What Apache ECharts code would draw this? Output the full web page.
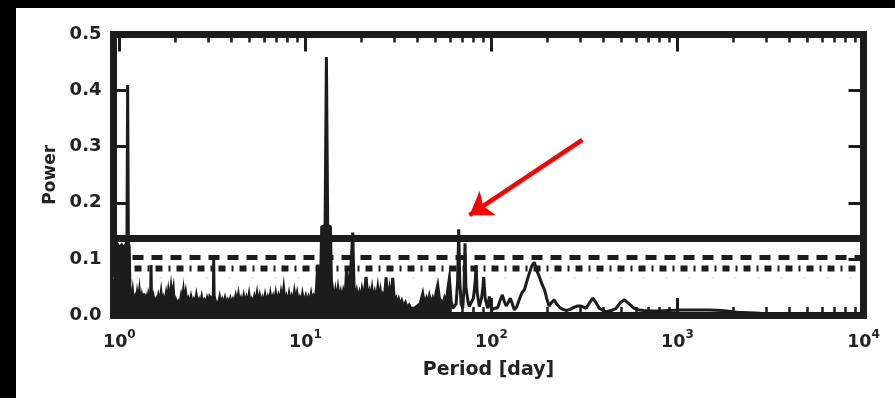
<!DOCTYPE html>
<html><head><meta charset="utf-8">
<script src="https://cdn.jsdelivr.net/npm/echarts@6/dist/echarts.min.js"></script>
<style>
html,body{margin:0;padding:0;background:#000;width:895px;height:398px;overflow:hidden}
#c{position:absolute;left:16px;top:8px;width:879px;height:390px;background:#fff}
</style></head><body><div id="c"></div>
<script>
// ---- data (period in days, power) ----
// dense short-period part of the periodogram (drawn filled)
const noisePeriod = [0.93,0.945,0.96,0.98,1.0,1.03,1.06,1.08,1.098,1.108,1.118,1.13,1.14,
 1.146,1.165,1.18,1.194,1.214,1.229,1.245,1.26,1.281,1.297,1.318,1.335,1.352,1.369,1.391,1.408,1.432,1.456,1.472,1.48,1.488,1.504,1.523,1.549,1.574,1.594,1.621,1.648,1.675,1.696,1.724,1.753,1.782,1.804,1.834,1.865,1.896,1.92,1.951,1.975,2.009,2.042,2.076,2.111,2.146,2.173,2.209,2.236,2.274,2.312,2.35,2.388,2.428,2.469,2.51,2.552,2.594,2.637,2.681,2.726,2.771,2.818,2.864,2.912,2.961,3.01,3.06,3.136,3.2,3.215,3.23,3.281,3.35,3.406,3.462,3.52,3.578,3.638,3.699,3.76,3.823,3.887,3.952,4.017,4.084,4.153,4.222,4.291,4.363,4.436,4.509,4.584,4.661,4.737,4.817,4.898,4.978,5.061,5.146,5.231,5.318,5.408,5.497,5.589,5.683,5.776,5.873,5.97,6.07,6.171,6.274,6.378,6.484,6.592,6.702,6.813,6.926,7.042,7.158,7.278,7.399,7.52,7.646,7.774,7.903,8.035,8.169,8.306,8.443,8.584,8.728,8.872,9.02,9.171,9.322,9.478,9.636,9.795,
 10.04,10.21,10.38,10.55,10.73,10.91,11.09,11.27,11.46,11.65,11.84,12.04,12.24,12.76,12.97,13.18,13.63,13.8,14.03,14.26,14.5,14.74,14.98,15.23,15.49,15.74,16.01,16.34,16.68,17.03,17.39,17.97,18.26,18.57,18.88,19.19,19.51,19.84,20.17,20.59,21.2,21.63,22.09,22.46,22.83,23.21,23.6,23.99,24.49,24.9,25.3,25.72,26.16,26.59,27.15,27.72,28.29,28.76,29.48,30.09,30.72,31.23,31.76,32.28,32.96,33.65,34.49,35.21,36.09,36.84,37.76,38.55,39.52,40.34,41.36,42.74,43.63,44.73,45.66,46.42,47.38,48.37,49.37,50.4,51.45,52.52,53.62,54.74,55.88,57.05,58.23,59.45,60.69];
const noisePower = [0.14,0.15,0.13,0.125,0.12,0.125,0.12,0.125,0.13,0.41,0.13,0.12,0.05,
 0.0475,0.022,0.0386,0.02,0.0297,0.02,0.0357,0.022,0.0416,0.021,0.0327,0.02,0.0386,0.021,0.0297,0.02,0.0357,0.025,0.03,0.089,0.03,0.025,0.0327,0.02,0.0267,0.019,0.0327,0.021,0.0386,0.02,0.0297,0.02,0.0357,0.022,0.0416,0.025,0.0475,0.03,0.0446,0.02,0.0267,0.019,0.0238,0.019,0.0327,0.022,0.0416,0.024,0.0386,0.02,0.0279,0.019,0.0315,0.02,0.0267,0.019,0.0339,0.02,0.0267,0.019,0.0315,0.02,0.0255,0.019,0.0291,0.021,0.0327,0.028,0.035,0.098,0.035,0.025,0.0267,0.019,0.0309,0.019,0.0267,0.019,0.0291,0.019,0.0255,0.018,0.0279,0.019,0.0267,0.02,0.0327,0.022,0.0357,0.02,0.0285,0.019,0.0327,0.02,0.0297,0.02,0.0351,0.019,0.0267,0.02,0.0315,0.021,0.0368,0.021,0.0327,0.02,0.0291,0.02,0.0339,0.021,0.0303,0.02,0.0357,0.022,0.0315,0.021,0.0368,0.022,0.0327,0.022,0.0386,0.025,0.0458,0.022,0.0315,0.021,0.0357,0.021,0.0315,0.022,0.0398,0.024,0.0368,0.021,0.0297,0.021,0.0357,0.021,
 0.033,0.021,0.03,0.02,0.0357,0.021,0.0327,0.028,0.045,0.09,0.045,0.05,0.157,0.16,0.46,0.16,0.157,0.06,0.045,0.025,0.0416,0.025,0.0446,0.025,0.0386,0.025,0.0416,0.03,0.085,0.04,0.06,0.147,0.05,0.03,0.0416,0.028,0.0386,0.026,0.0446,0.03,0.068,0.03,0.0416,0.026,0.0446,0.026,0.0386,0.025,0.0475,0.026,0.0416,0.024,0.0357,0.03,0.067,0.025,0.0446,0.025,0.066,0.024,0.0297,0.018,0.0267,0.017,0.025,0.015,0.022,0.013,0.0178,0.012,0.015,0.012,0.015,0.012,0.02,0.038,0.02,0.0297,0.018,0.0327,0.02,0.0297,0.02,0.04,0.053,0.03,0.0327,0.02,0.03,0.02,0.045,0.066,0.025];
// longer periods (drawn as a plain line)
const tailPeriod = [60.69,61.95,63.2,64.6,65.8,66.7,67.6,68.7,70.1,71.3,72.1,72.9,74.6,76.0,77.6,80.0,81.8,82.7,83.8,86.1,88.5,90.0,90.9,92.5,95.5,97.5,100.2,104,108,111,114.5,117,120,123,126.3,129.5,132.9,137,141,146,150.4,155,160,165,170,175,181,187,193,198,204,210,217,224,232,242,253,265,279,291,303,313,323,337,351,365,380,397,414,440,468,493,519,550,585,620,660,720,800,900,1050,1250,1500,1730,2100,2800,4000,6000,10000];
const tailPower = [0.025,0.012,0.012,0.02,0.06,0.153,0.06,0.02,0.012,0.05,0.128,0.05,0.027,0.015,0.012,0.03,0.06,0.089,0.04,0.015,0.03,0.05,0.068,0.03,0.012,0.033,0.009,0.012,0.013,0.025,0.036,0.025,0.016,0.022,0.03,0.02,0.009,0.015,0.027,0.04,0.045,0.06,0.075,0.088,0.094,0.08,0.068,0.055,0.045,0.03,0.016,0.022,0.027,0.02,0.014,0.01,0.008,0.01,0.014,0.016,0.016,0.014,0.012,0.022,0.03,0.022,0.012,0.008,0.006,0.008,0.012,0.022,0.027,0.02,0.012,0.009,0.008,0.007,0.007,0.008,0.009,0.009,0.009,0.008,0.005,0.003,0.002,0.001,0.001];
const thresholdLevels = [0.1364, 0.1025, 0.083];
const faintLevel = 0.066;
const xMajorPeriods = [1, 10, 100, 1000, 10000];
const xMinorPeriods = [2,3,4,5,6,7,8,9,20,30,40,50,60,70,80,90,200,300,400,500,600,700,800,900,2000,3000,4000,5000,6000,7000,8000,9000];
const xRange = [0.93, 10000];
const yRange = [0, 0.5];
const yStep = 0.1;
const arrowFrom = [308, 0.312];
const arrowTo = [76.2, 0.178];

// ---- chart ----
const lg = Math.log10;
const INK = '#1c1c1c';
const FONT = "'DejaVu Sans', sans-serif";
const xmin = lg(xRange[0]), xmax = lg(xRange[1]);
const majorX = xMajorPeriods.map(lg);
const minorX = xMinorPeriods.map(lg);
const pairs = (P, V) => P.map((p, i) => [lg(p), V[i]]);

const spine = {show: true, onZero: false, lineStyle: {color: INK, width: 7, cap: 'square'}};
const noLine = {show: false, onZero: false};
const baseX = {type: 'value', min: xmin, max: xmax, splitLine: {show: false},
  axisLabel: {show: false}, axisTick: {show: false}, axisLine: noLine};
const majTick = v => ({show: true, inside: true, length: 17, lineStyle: {color: INK, width: 3}, customValues: v});
const minTick = v => ({show: true, inside: true, length: 8, lineStyle: {color: INK, width: 2.5}, customValues: v});

const option = {
  animation: false,
  backgroundColor: '#fff',
  grid: {left: 97.5, right: 31.5, top: 26.5, bottom: 83, containLabel: false},
  xAxis: [
    Object.assign({}, baseX, {position: 'bottom', axisLine: spine, axisTick: majTick(majorX),
      axisLabel: {show: true, customValues: majorX, margin: 14,
        formatter: v => '{b|10}{s|' + Math.round(v) + '}',
        rich: {b: {fontFamily: FONT, fontWeight: 'bold', fontSize: 17.5, color: '#222', lineHeight: 22, verticalAlign: 'bottom'},
               s: {fontFamily: FONT, fontWeight: 'bold', fontSize: 12, color: '#222', lineHeight: 14, verticalAlign: 'top'}}},
      name: 'Period [day]', nameLocation: 'middle', nameGap: 46,
      nameTextStyle: {fontFamily: FONT, fontWeight: 'bold', fontSize: 19, color: '#222'}}),
    Object.assign({}, baseX, {position: 'bottom', axisTick: minTick(minorX)}),
    Object.assign({}, baseX, {position: 'top', axisLine: spine, axisTick: majTick(majorX)}),
    Object.assign({}, baseX, {position: 'top', axisTick: minTick(minorX)})
  ],
  yAxis: [
    {type: 'value', position: 'left', min: yRange[0], max: yRange[1], interval: yStep,
      splitLine: {show: false}, axisLine: spine,
      axisTick: {show: true, inside: true, length: 15, lineStyle: {color: INK, width: 3}},
      axisLabel: {margin: 12, formatter: v => v.toFixed(1), fontFamily: FONT, fontWeight: 'bold', fontSize: 18, color: '#222'},
      name: 'Power', nameLocation: 'middle', nameGap: 52, nameRotate: 90,
      nameTextStyle: {fontFamily: FONT, fontWeight: 'bold', fontSize: 17, color: '#222'}},
    {type: 'value', position: 'right', min: yRange[0], max: yRange[1], interval: yStep,
      splitLine: {show: false}, axisLine: spine, axisLabel: {show: false},
      axisTick: {show: true, inside: true, length: 15, lineStyle: {color: INK, width: 3}}}
  ],
  series: [
    {type: 'line', name: 'faint', z: 1, silent: true, symbol: 'none',
      data: [[xmin, faintLevel], [xmax, faintLevel]],
      lineStyle: {color: '#e4e4e4', width: 2, type: [2, 21]}},
    {type: 'line', name: 'FAP 0.1%', z: 1, silent: true, symbol: 'none',
      data: [[xmin, thresholdLevels[0]], [xmax, thresholdLevels[0]]],
      lineStyle: {color: INK, width: 7, type: 'solid'}},
    {type: 'line', name: 'FAP 1%', z: 1, silent: true, symbol: 'none',
      data: [[xmin, thresholdLevels[1]], [xmax, thresholdLevels[1]]],
      lineStyle: {color: INK, width: 5, type: [11, 8], cap: 'butt'}},
    {type: 'line', name: 'FAP 5%', z: 1, silent: true, symbol: 'none',
      data: [[xmin, thresholdLevels[2]], [xmax, thresholdLevels[2]]],
      lineStyle: {color: INK, width: 6, type: [7, 6, 2, 6], cap: 'butt'}},
    {type: 'line', name: 'power', z: 3, silent: true, symbol: 'none', smooth: false,
      data: pairs(noisePeriod, noisePower),
      lineStyle: {color: INK, width: 3, join: 'miter'}, areaStyle: {color: INK, opacity: 1}},
    {type: 'line', name: 'power-long', z: 3, silent: true, symbol: 'none', smooth: false,
      data: pairs(tailPeriod, tailPower),
      lineStyle: {color: INK, width: 3},
      markLine: {silent: true, symbol: ['none', 'arrow'], symbolSize: 22, label: {show: false},
        lineStyle: {color: '#ff0000', width: 4.5, type: 'solid'},
        data: [[{coord: [lg(arrowFrom[0]), arrowFrom[1]]}, {coord: [lg(arrowTo[0]), arrowTo[1]]}]]}}
  ]
};
echarts.init(document.getElementById('c')).setOption(option);
</script></body></html>
